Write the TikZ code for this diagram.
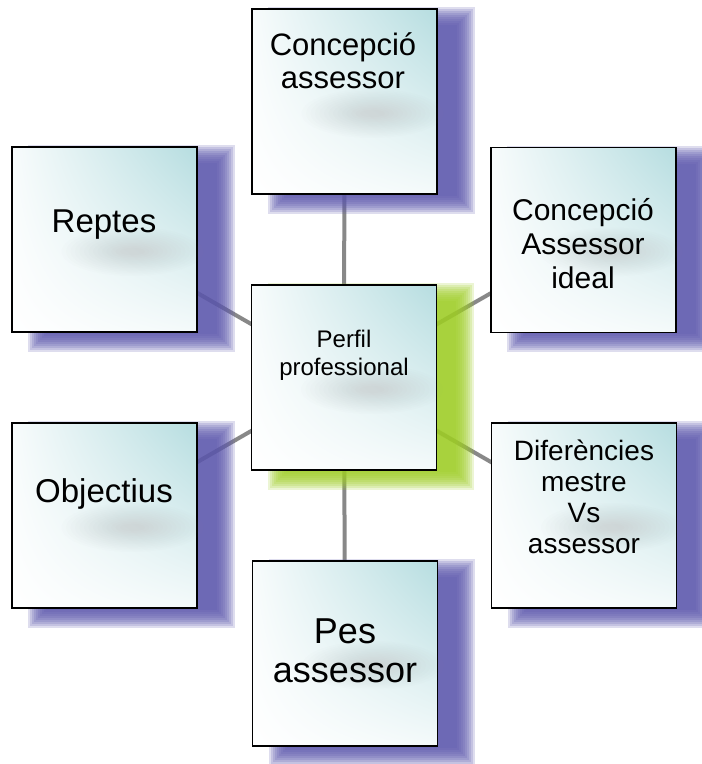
\documentclass[tikz,border=0pt]{standalone}
\usepackage{fontspec}
\setmainfont{Liberation Sans}
\usetikzlibrary{shadings}

\definecolor{shadowblue}{RGB}{92,87,172}
\definecolor{shadowgreen}{RGB}{158,205,38}
\definecolor{boxteal}{RGB}{182,221,224}
\definecolor{linkgrey}{RGB}{136,136,136}
\definecolor{smudgegrey}{RGB}{150,140,145}

\pgfdeclarelayer{links}
\pgfdeclarelayer{shadows}
\pgfsetlayers{links,shadows,main}

\tikzset{
  box/.style={draw=black, line width=1.4pt, minimum width=185pt, minimum height=185pt,
    inner sep=0pt, upper right=boxteal, upper left=boxteal!10, lower left=white, lower right=boxteal!15},
  link/.style={draw=linkgrey, line width=4pt},
  lbl/.style={anchor=base, align=center, inner sep=0pt},
}

% soft drop shadow behind a box: #1 node, #2 colour
\newcommand{\boxshadow}[2]{%
  \foreach \k in {0,...,9}{
    \fill[#2, opacity=0.2] ([shift={(35-2*\k,17-2*\k)}]#1.north west)
      rectangle ([shift={(19+2*\k,1+2*\k)}]#1.south east);
  }
}
% faint grey blur inside a box: #1 node
\newcommand{\boxsmudge}[1]{%
  \foreach \k in {1,...,14}{
    \fill[smudgegrey, opacity=0.016] ([shift={(28,12)}]#1.center) ellipse ({8+4.5*\k} and {2+1.6*\k});
  }
}

\begin{document}
\begin{tikzpicture}[x=1pt, y=-1pt]
    \useasboundingbox (0,0) rectangle (702,764);

    % boxes
    \node[box] (perfil) at (344,377.5) {};
    \node[box] (concepcio) at (344.5,101.5) {};
    \node[box] (ideal) at (583.5,240) {};
    \node[box] (diferencies) at (584,515.5) {};
    \node[box] (pes) at (345,653.5) {};
    \node[box] (objectius) at (104.5,515.5) {};
    \node[box] (reptes) at (104.5,239.5) {};

    \foreach \b in {perfil,concepcio,ideal,diferencies,pes,objectius,reptes}
        {\boxsmudge{\b}}

    % texts (placed by the baseline of their last line)
    \node[lbl, font=\fontsize{24}{28}\selectfont] (perfilT) at (344,375) {Perfil\\professional};
    \node[lbl, font=\fontsize{31}{33}\selectfont] (concepcioT) at (343,88) {Concepció\\assessor};
    \node[lbl, font=\fontsize{30}{34}\selectfont] (idealT) at (583,288) {Concepció\\Assessor\\ideal};
    \node[lbl, font=\fontsize{28}{31}\selectfont] (diferenciesT) at (584,553) {Diferències\\mestre\\Vs\\assessor};
    \node[lbl, font=\fontsize{36}{39}\selectfont] (pesT) at (345,682) {Pes\\assessor};
    \node[lbl, font=\fontsize{33}{36}\selectfont] (objectiusT) at (104,502) {Objectius};
    \node[lbl, font=\fontsize{33}{36}\selectfont] (reptesT) at (104,232) {Reptes};

    % shadows
    \begin{pgfonlayer}{shadows}
        \boxshadow{perfil}{shadowgreen}
        \boxshadow{concepcio}{shadowblue}
        \boxshadow{ideal}{shadowblue}
        \boxshadow{diferencies}{shadowblue}
        \boxshadow{pes}{shadowblue}
        \boxshadow{objectius}{shadowblue}
        \boxshadow{reptes}{shadowblue}
    \end{pgfonlayer}

    % links
    \begin{pgfonlayer}{links}
        \draw[link] (perfil.center) -- (concepcio.center);
        \draw[link] (perfil.center) -- (ideal.center);
        \draw[link] (perfil.center) -- (diferencies.center);
        \draw[link] (perfil.center) -- (pes.center);
        \draw[link] (perfil.center) -- (objectius.center);
        \draw[link] (perfil.center) -- (reptes.center);
    \end{pgfonlayer}
\end{tikzpicture}
\end{document}
